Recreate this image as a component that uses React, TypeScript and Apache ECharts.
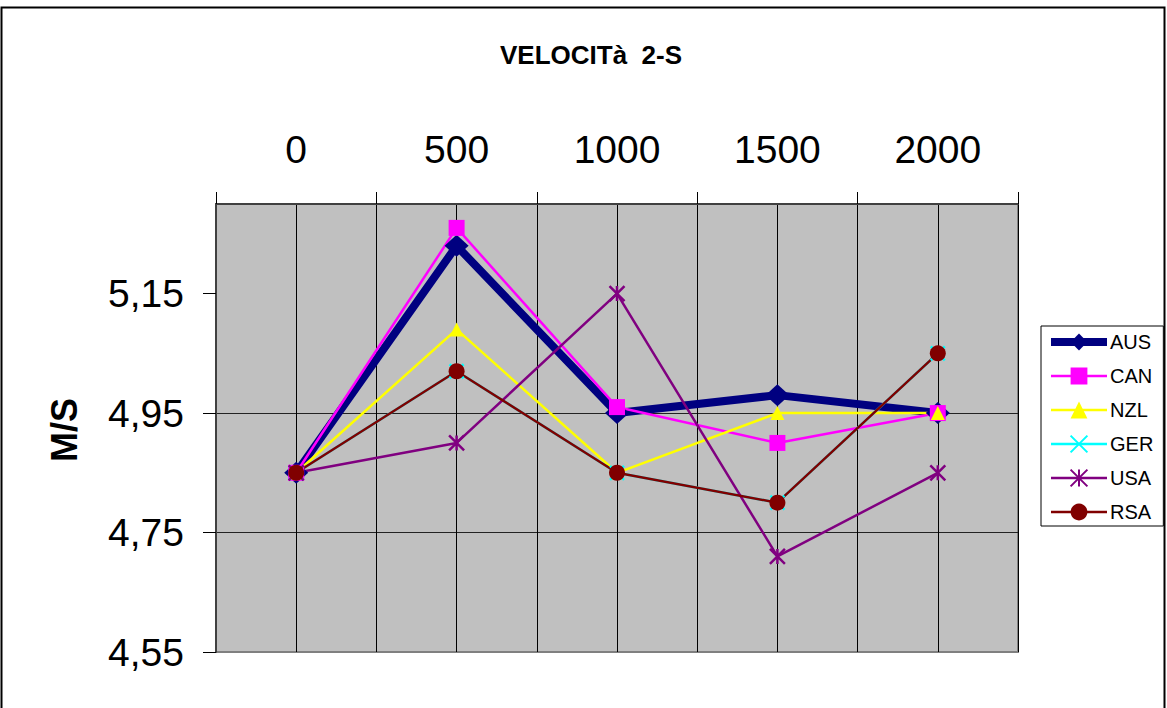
import React, { useEffect, useRef } from "react";
import * as echarts from "echarts";

const xValues = [0, 500, 1000, 1500, 2000];
const xCategories = ["0", "500", "1000", "1500", "2000"];
const yTicks = [4.55, 4.75, 4.95, 5.15];

const seriesNames = ["AUS", "CAN", "NZL", "GER", "USA", "RSA"];
const aus = [4.85, 5.23, 4.95, 4.98, 4.95];
const can = [4.85, 5.26, 4.96, 4.9, 4.95];
const nzl = [4.85, 5.09, 4.85, 4.95, 4.95];
const ger = [4.85, 5.02, 4.85, 4.8, 5.05];
const usa = [4.85, 4.9, 5.15, 4.71, 4.85];
const rsa = [4.85, 5.02, 4.85, 4.8, 5.05];

const FONT = '"Liberation Sans", Arial, sans-serif';

export default function App() {
  const ref = useRef<HTMLDivElement>(null);
  useEffect(() => {
    if (!ref.current) return;
    const chart = echarts.init(ref.current, null, { renderer: "svg" });
    const values = [aus, can, nzl, ger, usa, rsa];
    const styles = [
      { color: "#000080", width: 8, symbol: "diamond", size: [24, 22] },
      { color: "#FF00FF", width: 2.5, symbol: "rect", size: 16 },
      { color: "#FFFF00", width: 2.5, symbol: "triangle", size: 14 },
      { color: "#00FFFF", width: 2.5, symbol: "path://M0,0L10,10M10,0L0,10", size: 14 },
      { color: "#800080", width: 2.5, symbol: "path://M0,0L10,10M10,0L0,10M5,0L5,10", size: 15 },
      { color: "#800000", width: 2.5, symbol: "circle", size: 16 },
    ];
    const series = seriesNames.map((name, i) => {
      const s = styles[i];
      const isPath = String(s.symbol).startsWith("path://");
      return {
        name,
        type: "line",
        xAxisIndex: 0,
        yAxisIndex: 0,
        data: xValues.map((x, j) => [x, values[i][j]]),
        symbol: s.symbol,
        symbolSize: s.size,
        showAllSymbol: true,
        lineStyle: { color: s.color, width: s.width },
        itemStyle: isPath
          ? { color: s.color, borderColor: s.color, borderWidth: 2.5 }
          : { color: s.color },
        emphasis: { disabled: true },
        clip: false,
      };
    });

    chart.setOption({
      animation: false,
      backgroundColor: "#ffffff",
      textStyle: { fontFamily: FONT },
      grid: {
        left: 216,
        right: 149,
        top: 204,
        bottom: 56,
        show: true,
        backgroundColor: "#C0C0C0",
        borderColor: "#808080",
        borderWidth: 2,
      },
      legend: {
        orient: "vertical",
        left: 1041,
        top: 326,
        padding: [6, 10, 4, 6],
        itemGap: 14,
        itemWidth: 56,
        itemHeight: 21,
        backgroundColor: "#ffffff",
        borderColor: "#000000",
        borderWidth: 1,
        textStyle: { fontSize: 20, color: "#000", fontFamily: FONT, padding: [0, 0, 0, -2] },
        data: seriesNames.map((name, i) => ({
          name,
          lineStyle: { width: i === 0 ? 8 : 2.5, color: styles[i].color },
        })),
      },
      xAxis: [
        {
          type: "value",
          position: "top",
          min: -250,
          max: 2250,
          interval: 250,
          axisLine: { show: true, onZero: false, lineStyle: { color: "#404040", width: 2 } },
          axisTick: { show: false },
          splitLine: { show: true, lineStyle: { color: "#000000", width: 1 } },
          axisLabel: {
            margin: 35,
            fontSize: 39,
            color: "#000",
            fontFamily: FONT,
            formatter: (v: number) => {
              const idx = xValues.indexOf(Math.round(v));
              return idx >= 0 ? xCategories[idx] : "";
            },
          },
        },
        {
          type: "category",
          position: "top",
          data: xCategories,
          boundaryGap: true,
          axisLine: { show: false, onZero: false },
          axisLabel: { show: false },
          splitLine: { show: false },
          axisTick: { show: true, length: 12, lineStyle: { color: "#000", width: 1 } },
        },
      ],
      yAxis: {
        type: "value",
        min: 4.55,
        max: 5.3,
        axisLine: { show: true, onZero: false, lineStyle: { color: "#404040", width: 2 } },
        axisTick: {
          show: true,
          length: 13,
          customValues: yTicks,
          lineStyle: { color: "#000", width: 1 },
        },
        splitLine: {
          show: true,
          showMinLine: false,
          showMaxLine: false,
          lineStyle: { color: "#222222", width: 1 },
        },
        axisLabel: {
          customValues: yTicks,
          margin: 32,
          fontSize: 39,
          color: "#000",
          fontFamily: FONT,
          formatter: (v: number) => v.toFixed(2).replace(".", ","),
        },
      },
      graphic: [
        {
          type: "rect",
          z: -10,
          shape: { x: 1.5, y: 7.5, width: 1163, height: 720 },
          style: { fill: "none", stroke: "#000", lineWidth: 2 },
          silent: true,
        },
        {
          type: "text",
          x: 591,
          y: 55,
          style: {
            text: "VELOCITà  2-S",
            font: `bold 26px ${FONT}`,
            fill: "#000",
            textAlign: "center",
            textVerticalAlign: "middle",
          },
          silent: true,
        },
        {
          type: "text",
          x: 64,
          y: 430,
          rotation: Math.PI / 2,
          style: {
            text: "M/S",
            font: `bold 36px ${FONT}`,
            fill: "#000",
            textAlign: "center",
            textVerticalAlign: "middle",
          },
          silent: true,
        },
      ],
      series,
    });
    return () => chart.dispose();
  }, []);
  return (
    <div
      ref={ref}
      style={{ position: "absolute", left: 0, top: 0, width: 1167, height: 708 }}
    />
  );
}
